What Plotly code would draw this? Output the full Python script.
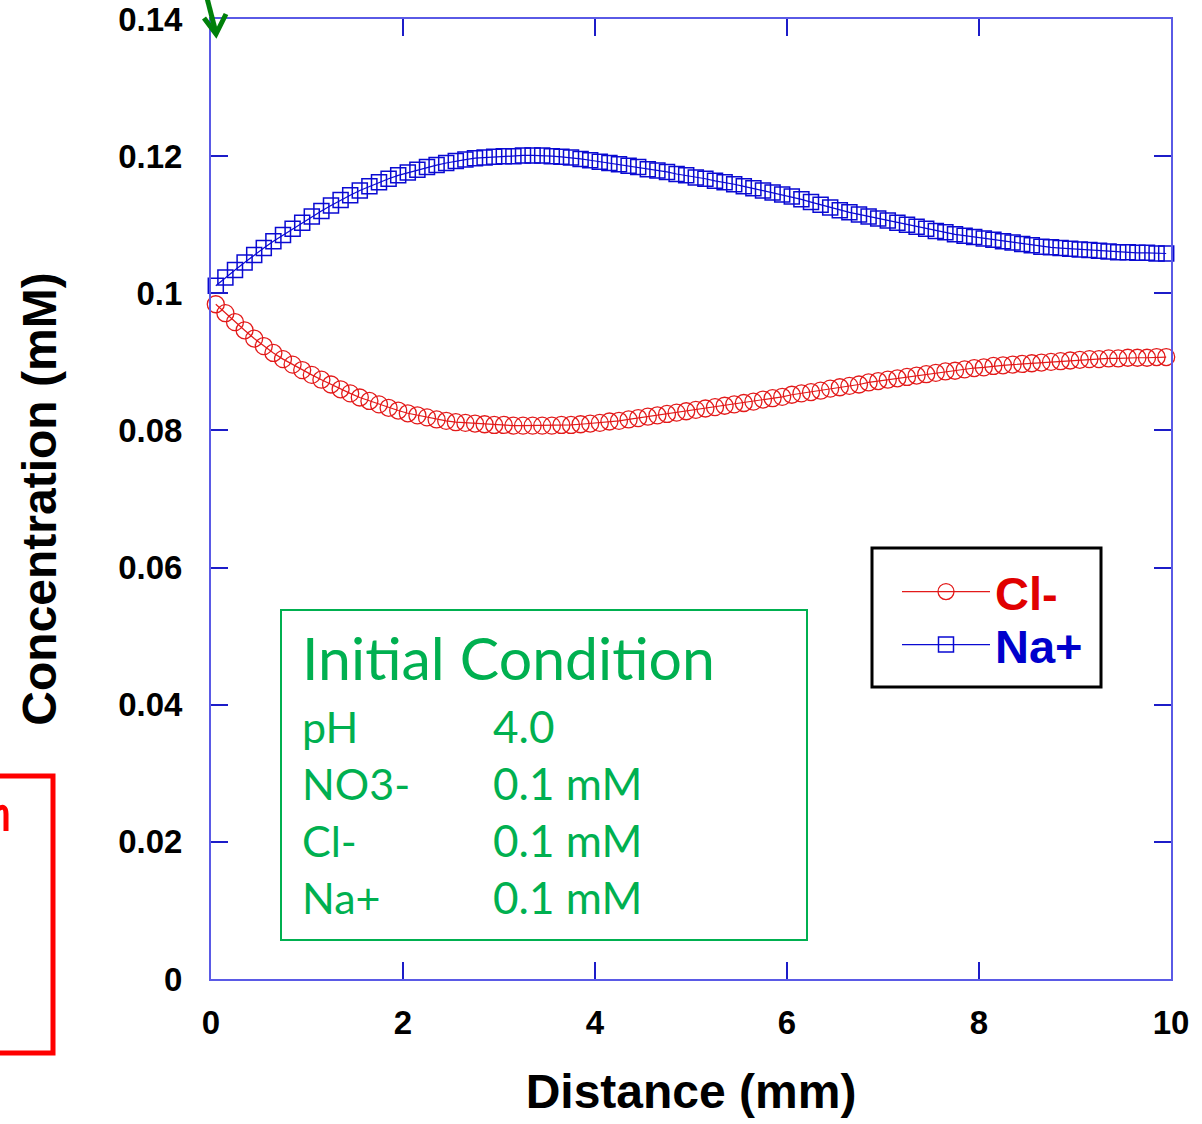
import plotly.graph_objects as go

# ---------------- data ----------------
distance_mm = [
    0.05, 0.15, 0.25, 0.35, 0.45, 0.55, 0.65, 0.75, 0.85, 0.95,
    1.05, 1.15, 1.25, 1.35, 1.45, 1.55, 1.65, 1.75, 1.85, 1.95,
    2.05, 2.15, 2.25, 2.35, 2.45, 2.55, 2.65, 2.75, 2.85, 2.95,
    3.05, 3.15, 3.25, 3.35, 3.45, 3.55, 3.65, 3.75, 3.85, 3.95,
    4.05, 4.15, 4.25, 4.35, 4.45, 4.55, 4.65, 4.75, 4.85, 4.95,
    5.05, 5.15, 5.25, 5.35, 5.45, 5.55, 5.65, 5.75, 5.85, 5.95,
    6.05, 6.15, 6.25, 6.35, 6.45, 6.55, 6.65, 6.75, 6.85, 6.95,
    7.05, 7.15, 7.25, 7.35, 7.45, 7.55, 7.65, 7.75, 7.85, 7.95,
    8.05, 8.15, 8.25, 8.35, 8.45, 8.55, 8.65, 8.75, 8.85, 8.95,
    9.05, 9.15, 9.25, 9.35, 9.45, 9.55, 9.65, 9.75, 9.85, 9.95,
]

cl_conc = [
    0.0984, 0.0971, 0.0958, 0.0946, 0.0934, 0.0923, 0.0913, 0.0904, 0.0896, 0.0888,
    0.0881, 0.0874, 0.0867, 0.0860, 0.0854, 0.0848, 0.0843, 0.0838, 0.0833, 0.0829,
    0.0825, 0.0822, 0.0819, 0.0816, 0.0814, 0.0812, 0.0811, 0.0810, 0.0809, 0.0808,
    0.0808, 0.0807, 0.0807, 0.0807, 0.0807, 0.0807, 0.0808, 0.0808, 0.0809, 0.0810,
    0.0811, 0.0813, 0.0814, 0.0816, 0.0818, 0.0820, 0.0822, 0.0824, 0.0826, 0.0828,
    0.0830, 0.0832, 0.0834, 0.0836, 0.0838, 0.0840, 0.0842, 0.0845, 0.0847, 0.0849,
    0.0852, 0.0854, 0.0856, 0.0858, 0.0861, 0.0863, 0.0865, 0.0867, 0.0870, 0.0872,
    0.0874, 0.0876, 0.0878, 0.0880, 0.0882, 0.0884, 0.0886, 0.0887, 0.0889, 0.0891,
    0.0892, 0.0894, 0.0895, 0.0896, 0.0897, 0.0898, 0.0899, 0.0900, 0.0901, 0.0902,
    0.0903, 0.0904, 0.0904, 0.0905, 0.0905, 0.0906, 0.0906, 0.0906, 0.0907, 0.0907,
]

na_conc = [
    0.1011, 0.1023, 0.1034, 0.1045, 0.1056, 0.1066, 0.1076, 0.1085, 0.1094, 0.1103,
    0.1112, 0.1120, 0.1128, 0.1136, 0.1143, 0.1150, 0.1156, 0.1162, 0.1167, 0.1172,
    0.1176, 0.1180, 0.1184, 0.1187, 0.1190, 0.1193, 0.1195, 0.1197, 0.1198, 0.1199,
    0.1200, 0.1200, 0.1201, 0.1201, 0.1201, 0.1200, 0.1199, 0.1198, 0.1196, 0.1194,
    0.1192, 0.1190, 0.1188, 0.1186, 0.1184, 0.1181, 0.1179, 0.1177, 0.1174, 0.1172,
    0.1169, 0.1167, 0.1164, 0.1162, 0.1159, 0.1156, 0.1153, 0.1150, 0.1147, 0.1144,
    0.1141, 0.1137, 0.1133, 0.1129, 0.1125, 0.1121, 0.1118, 0.1115, 0.1112, 0.1109,
    0.1106, 0.1103, 0.1100, 0.1097, 0.1094, 0.1091, 0.1089, 0.1086, 0.1084, 0.1082,
    0.1080, 0.1078, 0.1076, 0.1074, 0.1072, 0.1070, 0.1068, 0.1067, 0.1066, 0.1065,
    0.1064, 0.1063, 0.1062, 0.1061, 0.1060, 0.1060, 0.1059, 0.1059, 0.1058, 0.1058,
]

x_tick_vals = [0, 2, 4, 6, 8, 10]
x_tick_text = ["0", "2", "4", "6", "8", "10"]
y_tick_vals = [0, 0.02, 0.04, 0.06, 0.08, 0.1, 0.12, 0.14]
y_tick_text = ["0", "0.02", "0.04", "0.06", "0.08", "0.1", "0.12", "0.14"]

cond_labels = ["pH", "NO3-", "Cl-", "Na+"]
cond_values = ["4.0", "0.1 mM", "0.1 mM", "0.1 mM"]

# ---------------- styling ----------------
RED = "#e31a1a"
BLUE = "#0a0ad2"
GREEN = "#00b050"
AXIS = "#5a5ae6"
TICK = "#1c1cc8"
BOLD_FONT = "Liberation Sans, Arial, sans-serif"
TEXT_FONT = "Lato, Open Sans, sans-serif"


def px_x(p):
    return (p - 211) / 960.0


def px_y(p):
    return (979 - p) / 960.0


fig = go.Figure()

fig.add_trace(go.Scatter(
    x=distance_mm, y=cl_conc, mode="lines+markers",
    name="<b><span style='color:#e00000'>Cl-</span></b>",
    line=dict(color=RED, width=1.2),
    marker=dict(symbol="circle-open", size=17, color=RED, line=dict(width=1.3, color=RED)),
    cliponaxis=False, legend="legend",
))
fig.add_trace(go.Scatter(
    x=distance_mm, y=na_conc, mode="lines+markers",
    name="<b><span style='color:#0000cc'>Na+</span></b>",
    line=dict(color=BLUE, width=1.2),
    marker=dict(symbol="square-open", size=15, color=BLUE, line=dict(width=1.5, color=BLUE)),
    cliponaxis=False, legend="legend2",
))

axis_common = dict(
    showgrid=False, zeroline=False, showline=True, linecolor=AXIS, linewidth=2,
    mirror="ticks", ticks="inside", ticklen=17, tickwidth=2, tickcolor=TICK,
    automargin=False,
    tickfont=dict(family=BOLD_FONT, size=33, color="black", weight="bold"),
)

fig.update_xaxes(
    range=[0, 10], tickmode="array", tickvals=x_tick_vals, ticktext=x_tick_text,
    ticklabelstandoff=13,
    title=dict(text="Distance (mm)", standoff=35,
               font=dict(family=BOLD_FONT, size=48, color="black", weight="bold")),
    **axis_common,
)
fig.update_yaxes(
    range=[0, 0.14], tickmode="array", tickvals=y_tick_vals, ticktext=y_tick_text,
    ticklabelstandoff=20,
    title=dict(text="Concentration (mM)", standoff=46,
               font=dict(family=BOLD_FONT, size=48, color="black", weight="bold")),
    **axis_common,
)

shapes = []
annotations = []

# Initial condition box
shapes.append(dict(type="rect", xref="paper", yref="paper",
                   x0=px_x(281), x1=px_x(807), y0=px_y(940), y1=px_y(610),
                   line=dict(color=GREEN, width=2), fillcolor="rgba(0,0,0,0)"))
annotations.append(dict(xref="paper", yref="paper", x=px_x(300), y=px_y(657),
                        xanchor="left", yanchor="middle", showarrow=False,
                        text="Initial Condition",
                        font=dict(family=TEXT_FONT, size=59, color=GREEN)))
row_y = [726, 783, 840, 897]
for lab, val, yy in zip(cond_labels, cond_values, row_y):
    annotations.append(dict(xref="paper", yref="paper", x=px_x(300), y=px_y(yy),
                            xanchor="left", yanchor="middle", showarrow=False, text=lab,
                            font=dict(family=TEXT_FONT, size=43, color=GREEN)))
    annotations.append(dict(xref="paper", yref="paper", x=px_x(491), y=px_y(yy),
                            xanchor="left", yanchor="middle", showarrow=False, text=val,
                            font=dict(family=TEXT_FONT, size=44, color=GREEN)))

# Legend frame
shapes.append(dict(type="rect", xref="paper", yref="paper",
                   x0=px_x(872), x1=px_x(1101), y0=px_y(687), y1=px_y(548),
                   line=dict(color="black", width=3), fillcolor="rgba(0,0,0,0)"))

# red box partially visible at the left edge (with the visible stroke of a clipped glyph)
shapes.append(dict(type="rect", xref="paper", yref="paper",
                   x0=px_x(-60), x1=px_x(53), y0=px_y(1053), y1=px_y(776),
                   line=dict(color="#ff0000", width=5), fillcolor="rgba(0,0,0,0)"))
shapes.append(dict(type="path", xref="paper", yref="paper",
                   path="M {:.5f},{:.5f} Q {:.5f},{:.5f} {:.5f},{:.5f} L {:.5f},{:.5f}".format(
                       px_x(-2), px_y(809), px_x(6), px_y(804), px_x(6), px_y(814),
                       px_x(6), px_y(831)),
                   line=dict(color="#ff0000", width=5)))

# green arrow at top-left: shaft + open V head drawn as paths
shapes.append(dict(type="path", xref="paper", yref="paper",
                   path="M {:.5f},{:.5f} L {:.5f},{:.5f}".format(
                       px_x(207), px_y(-2), px_x(216), px_y(33)),
                   line=dict(color="#00800a", width=5)))
shapes.append(dict(type="path", xref="paper", yref="paper",
                   path="M {:.5f},{:.5f} L {:.5f},{:.5f} L {:.5f},{:.5f}".format(
                       px_x(204), px_y(18), px_x(216), px_y(34), px_x(226), px_y(14)),
                   line=dict(color="#00800a", width=5)))

legend_common = dict(xanchor="left", yanchor="middle", bgcolor="rgba(0,0,0,0)",
                     borderwidth=0, itemwidth=88,
                     font=dict(family=BOLD_FONT, size=47, color="black"))

fig.update_layout(
    width=1202, height=1124,
    margin=dict(l=211, r=31, t=19, b=145),
    plot_bgcolor="white", paper_bgcolor="white",
    showlegend=True,
    legend=dict(x=px_x(897), y=px_y(592), **legend_common),
    legend2=dict(x=px_x(897), y=px_y(645), **legend_common),
    shapes=shapes, annotations=annotations,
)

fig.write_html("out.html")
